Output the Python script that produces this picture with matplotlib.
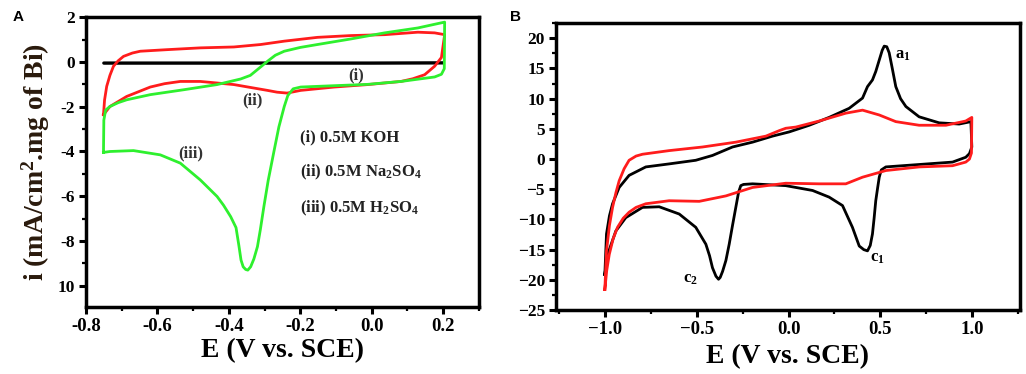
import matplotlib.pyplot as plt
from matplotlib.ticker import MultipleLocator

# ---- panel A data: CV in three electrolytes ----
i_E = [-0.75, -0.5, -0.25, 0.0, 0.2]
i_I = [-0.05, -0.05, -0.05, -0.05, -0.04]

ii_fwd_E = [-0.751, -0.748, -0.742, -0.733, -0.723, -0.71, -0.695, -0.67, -0.648, -0.573,
            -0.48, -0.386, -0.311, -0.245, -0.152, -0.058, 0.036, 0.129, 0.176, 0.204]
ii_fwd_I = [-2.36, -1.7, -1.09, -0.6, -0.19, 0.05, 0.25, 0.4, 0.48, 0.55,
            0.63, 0.67, 0.78, 0.93, 1.10, 1.18, 1.22, 1.33, 1.30, 1.22]
ii_rev_E = [0.204, 0.195, 0.176, 0.148, 0.115, 0.082, -0.011, -0.105, -0.199, -0.237,
            -0.265, -0.292, -0.386, -0.48, -0.536, -0.58, -0.62, -0.686, -0.733, -0.751]
ii_rev_I = [1.22, 0.2, -0.19, -0.57, -0.75, -0.87, -1.01, -1.12, -1.27, -1.39,
            -1.35, -1.27, -1.01, -0.87, -0.87, -0.97, -1.12, -1.54, -1.99, -2.36]

iii_fwd_E = [-0.751, -0.75, -0.745, -0.733, -0.71, -0.686, -0.62, -0.526, -0.433, -0.367,
             -0.34, -0.32, -0.292, -0.27, -0.245, -0.2, -0.152, -0.058, 0.036, 0.129,
             0.195, 0.204]
iii_fwd_I = [-4.04, -2.6, -2.15, -1.99, -1.82, -1.69, -1.46, -1.24, -1.01, -0.76,
             -0.6, -0.34, 0.03, 0.3, 0.48, 0.65, 0.78, 1.03, 1.30, 1.52,
             1.75, 1.78]
iii_rev_E = [0.204, 0.203, 0.195, 0.176, 0.082, -0.011, -0.105, -0.199, -0.22, -0.235,
             -0.245, -0.26, -0.273, -0.29, -0.302, -0.312, -0.32, -0.33, -0.339, -0.347,
             -0.353, -0.36, -0.366, -0.372, -0.38, -0.395, -0.415, -0.433, -0.48, -0.536,
             -0.592, -0.667, -0.733, -0.751]
iii_rev_I = [1.78, -0.3, -0.55, -0.67, -0.87, -1.0, -1.06, -1.12, -1.2, -1.5,
             -1.99, -2.9, -3.93, -5.3, -6.46, -7.5, -8.25, -8.8, -9.15, -9.3,
             -9.27, -9.15, -8.85, -8.2, -7.4, -6.91, -6.4, -6.01, -5.27, -4.52,
             -4.15, -3.96, -4.0, -4.04]

a_yticks = [2, 0, -2, -4, -6, -8, -10]
a_ytick_labels = ['2', '0', '-2', '-4', '-6', '-8', '10']
a_xticks = [-0.8, -0.6, -0.4, -0.2, 0.0, 0.2]
a_xtick_labels = ['-0.8', '-0.6', '-0.4', '-0.2', '0.0', '0.2']

# ---- panel B data: two CV cycles ----
blk_fwd_E = [-1.0, -0.991, -0.975, -0.958, -0.922, -0.868, -0.777, -0.65, -0.505, -0.414,
             -0.305, -0.196, -0.087, 0.004, 0.113, 0.221, 0.33, 0.403, 0.43, 0.457,
             0.475, 0.494, 0.51, 0.521, 0.535, 0.548, 0.565, 0.584, 0.61, 0.639,
             0.711, 0.82, 0.929, 0.993]
blk_fwd_I = [-19.1, -12.4, -9.4, -7.4, -4.7, -2.7, -1.3, -0.8, -0.2, 0.6,
             2.0, 2.8, 3.8, 4.5, 5.6, 6.9, 8.4, 10.1, 12.0, 13.1,
             14.5, 16.4, 18.0, 18.7, 18.6, 17.6, 15.0, 12.0, 10.0, 8.7,
             7.0, 6.0, 5.8, 6.2]
blk_rev_E = [0.993, 0.998, 0.985, 0.965, 0.893, 0.711, 0.53, 0.505, 0.494, 0.485,
             0.475, 0.466, 0.457, 0.445, 0.43, 0.41, 0.385, 0.348, 0.294, 0.221,
             0.131, -0.015, -0.196, -0.245, -0.26, -0.272, -0.287, -0.305, -0.323, -0.341,
             -0.359, -0.372, -0.381, -0.395, -0.414, -0.43, -0.45, -0.505, -0.595, -0.704,
             -0.795, -0.886, -0.94, -0.985, -1.0]
blk_rev_I = [6.2, 2.0, 0.9, 0.3, -0.5, -0.9, -1.3, -1.8, -3.0, -4.8,
             -6.9, -9.8, -12.4, -14.3, -15.2, -15.0, -14.4, -11.3, -7.7, -6.3,
             -5.2, -4.4, -4.1, -4.2, -4.4, -5.5, -8.0, -11.0, -14.1, -16.8,
             -18.6, -19.6, -19.9, -19.4, -18.0, -16.0, -14.1, -11.3, -9.1, -7.9,
             -8.0, -9.7, -11.9, -15.8, -19.1]

red_fwd_E = [-1.0, -0.991, -0.975, -0.958, -0.94, -0.922, -0.895, -0.868, -0.83, -0.795,
             -0.65, -0.468, -0.287, -0.123, -0.051, -0.015, 0.04, 0.167, 0.312, 0.403,
             0.494, 0.584, 0.711, 0.857, 0.965, 0.998]
red_fwd_I = [-21.6, -15.2, -11.0, -8.0, -5.6, -3.6, -1.6, -0.2, 0.5, 0.8,
             1.4, 2.0, 2.8, 3.8, 4.7, 5.1, 5.3, 6.3, 7.6, 8.1,
             7.3, 6.2, 5.6, 5.6, 6.3, 6.9]
red_rev_E = [0.998, 0.996, 0.985, 0.965, 0.893, 0.711, 0.53, 0.403, 0.312, 0.167,
             -0.015, -0.196, -0.341, -0.486, -0.65, -0.777, -0.83, -0.868, -0.9, -0.931,
             -0.955, -0.976, -0.99, -1.0]
red_rev_I = [6.9, 1.0, 0.0, -0.5, -1.1, -1.3, -1.9, -3.0, -4.1, -4.1,
             -4.0, -4.7, -6.1, -7.0, -6.9, -7.4, -8.0, -8.8, -9.8, -11.3,
             -13.2, -15.8, -18.5, -21.6]

b_yticks = [20, 15, 10, 5, 0, -5, -10, -15, -20, -25]
b_xticks = [-1.0, -0.5, 0.0, 0.5, 1.0]

plt.rcParams['font.family'] = ['Liberation Serif', 'DejaVu Serif']
plt.rcParams['font.weight'] = 'bold'
plt.rcParams['mathtext.fontset'] = 'custom'
plt.rcParams['mathtext.rm'] = 'Liberation Serif:bold'
plt.rcParams['mathtext.bf'] = 'Liberation Serif:bold'
plt.rcParams['mathtext.it'] = 'Liberation Serif:bold'

fig = plt.figure(figsize=(10.26, 3.74), dpi=100)
axA = fig.add_axes([0.0838, 0.179, 0.383, 0.775])
axB = fig.add_axes([0.5419, 0.171, 0.4522, 0.767])

RED = '#ff1c1c'
GREEN = '#2ef02e'

# panel A
axA.plot(i_E, i_I, color='black', lw=2.4, solid_capstyle='round')
axA.plot(ii_fwd_E + ii_rev_E, ii_fwd_I + ii_rev_I, color=RED, lw=2.0, solid_joinstyle='round')
axA.plot(iii_fwd_E + iii_rev_E, iii_fwd_I + iii_rev_I, color=GREEN, lw=2.0, solid_joinstyle='round')
axA.set_xlim(-0.8, 0.3)
axA.set_ylim(-10.95, 2)
axA.set_yticks(a_yticks, a_ytick_labels)
axA.set_xticks(a_xticks, a_xtick_labels)
axA.xaxis.set_minor_locator(MultipleLocator(0.1))
axA.yaxis.set_minor_locator(MultipleLocator(1))
axA.text(-0.043, -0.59, '(i)', fontsize=12, ha='center', va='center', color='#333333')
axA.text(-0.333, -1.7, '(ii)', fontsize=12, ha='center', va='center', color='#333333')
axA.text(-0.507, -4.07, '(iii)', fontsize=12, ha='center', va='center', color='#333333')
axA.text(-0.2, -3.36, '(i) 0.5M KOH', fontsize=12, va='center', color='#222222')
axA.text(-0.2, -4.92, '(ii) 0.5M Na$_\\mathbf{2}$SO$_\\mathbf{4}$', fontsize=12, va='center', color='#222222')
axA.text(-0.2, -6.53, '(iii) 0.5M H$_\\mathbf{2}$SO$_\\mathbf{4}$', fontsize=12, va='center', color='#222222')
axA.set_xlabel('E (V vs. SCE)', fontsize=20, fontweight='bold', labelpad=2)
axA.set_ylabel('i (mA/cm$^\\mathbf{2}$.mg of Bi)', fontsize=20, fontweight='bold',
               color='#2a1a0c', labelpad=4)

# panel B
axB.plot(blk_fwd_E + blk_rev_E, blk_fwd_I + blk_rev_I, color='black', lw=2.0, solid_joinstyle='round')
axB.plot(red_fwd_E + red_rev_E, red_fwd_I + red_rev_I, color=RED, lw=2.0, solid_joinstyle='round')
axB.set_xlim(-1.266, 1.26)
axB.set_ylim(-25, 22.5)
axB.set_yticks(b_yticks)
axB.set_xticks(b_xticks)
axB.xaxis.set_minor_locator(MultipleLocator(0.25))
axB.yaxis.set_minor_locator(MultipleLocator(2.5))
axB.text(0.62, 17.3, 'a$_\\mathbf{1}$', fontsize=12, ha='center', va='center')
axB.text(0.485, -16.3, 'c$_\\mathbf{1}$', fontsize=12, ha='center', va='center')
axB.text(-0.532, -19.9, 'c$_\\mathbf{2}$', fontsize=12, ha='center', va='center')
axB.set_xlabel('E (V vs. SCE)', fontsize=20, fontweight='bold', labelpad=4)

for ax in (axA, axB):
    for sp in ax.spines.values():
        sp.set_linewidth(2.5)
    ax.tick_params(which='major', direction='out', length=5, width=2.2, pad=3)
    ax.tick_params(which='minor', direction='out', length=3, width=1.6)
    ax.tick_params(axis='x', labelsize=13.5)
    ax.tick_params(axis='y', labelsize=12.5)
    ax.tick_params(top=False, right=False, which='both')
    for lab in ax.get_xticklabels() + ax.get_yticklabels():
        lab.set_fontweight('bold')

fig.text(0.012, 0.955, 'A', fontsize=11, fontweight='bold', family='Liberation Sans', va='center')
fig.text(0.497, 0.955, 'B', fontsize=11, fontweight='bold', family='Liberation Sans', va='center')

fig.savefig('out.png', dpi=100)
